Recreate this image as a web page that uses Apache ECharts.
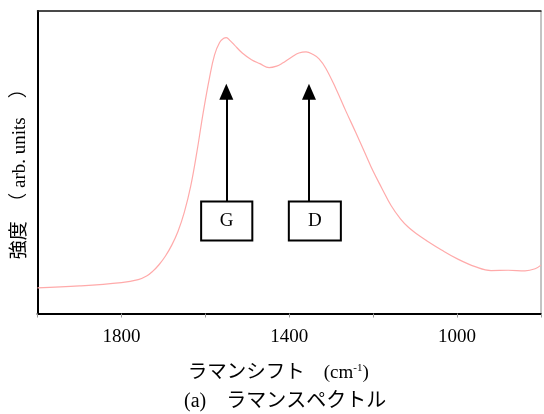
<!DOCTYPE html>
<html><head><meta charset="utf-8">
<script src="https://cdn.jsdelivr.net/npm/echarts@6/dist/echarts.min.js"></script>
<style>html,body{margin:0;padding:0;background:#fff}#c{width:544px;height:414px}</style>
</head><body><div id="c"></div>
<script>
const ramanShift = [2000,1900,1800,1760,1740,1725,1710,1695,1680,1665,1650,1635,1620,1605,1590,1578,1566,1556,1550,1541,1531,1512,1490,1470,1448,1430,1417,1393,1377,1360,1343,1329,1313,1289,1265,1242,1218,1200,1180,1157,1135,1116,1095,1075,1037,997,957,919,878,838,814,800];
const intensity = [8.5,9.1,10.2,11.2,12.4,14.0,16.2,19.0,22.6,27.2,33.5,42.0,53.5,66.5,78.0,85.5,89.6,91.0,91.2,90.2,88.8,86.1,83.9,82.6,81.3,81.8,82.7,84.9,86.1,86.5,85.6,84.2,81.1,74.4,66.9,60.0,52.6,47.0,41.6,35.6,31.3,28.5,26.2,24.3,21.0,17.9,15.5,14.2,14.3,14.1,14.8,16.0];
const xTickLabels = [1800, 1400, 1000];
const peakNames = ['G', 'D'];
const peakShift = [1550, 1353];
const boxLeft = [1610, 1401];
const boxRight = [1488, 1277];
const boxBottom = 24.1;
const boxTop = 37.0;
const arrowTip = 73.3;

const FONT = "'Liberation Serif','Noto Sans CJK JP',serif";
const chart = echarts.init(document.getElementById('c'));
const pts = ramanShift.map((x, i) => [x, intensity[i]]);
chart.setOption({
  animation: false,
  grid: {left: 37.5, right: 1, top: 11, bottom: 100.5, show: true, borderColor: '#888', borderWidth: 1, backgroundColor: 'transparent'},
  xAxis: [{
    type: 'value', min: 800, max: 2000, interval: 200, inverse: true, position: 'bottom',
    axisLine: {show: true, lineStyle: {color: '#000', width: 2}},
    axisTick: {show: true, length: 4, lineStyle: {color: '#999', width: 1}},
    splitLine: {show: false},
    axisLabel: {margin: 14, color: '#000', fontFamily: FONT, fontSize: 19,
      formatter: v => xTickLabels.includes(v) ? String(v) : ''},
    name: '{jp|ラマンシフト}　(cm{sup|-1})', nameLocation: 'middle', nameGap: 49,
    nameTextStyle: {color: '#000', fontFamily: FONT, fontSize: 19, padding: [0, 22, 0, 0],
      rich: {
        jp: {fontSize: 19.5, color: '#000', fontFamily: FONT},
        sup: {fontSize: 11, verticalAlign: 'top', padding: [0, 0, 10, 0], color: '#000', fontFamily: FONT}}}
  }, {
    type: 'value', min: 800, max: 2000, inverse: true, position: 'top',
    axisLine: {show: true, onZero: false, lineStyle: {color: '#222', width: 1.5}},
    axisTick: {show: false}, axisLabel: {show: false}, splitLine: {show: false}
  }],
  yAxis: {
    type: 'value', min: 0, max: 100,
    axisLine: {show: true, lineStyle: {color: '#000', width: 2}},
    axisTick: {show: false}, axisLabel: {show: false}, splitLine: {show: false},
    name: '強度　（ arb. units　）', nameLocation: 'middle', nameGap: 8, nameRotate: 90,
    nameTextStyle: {color: '#000', fontFamily: FONT, fontSize: 19, padding: [0, 14, 0, 0]}
  },
  title: {
    text: '(a)　ラマンスペクトル', left: 179, top: 387,
    textStyle: {color: '#000', fontFamily: FONT, fontSize: 20, fontWeight: 'normal'}
  },
  series: [{
    type: 'line', data: pts, showSymbol: false, smooth: 0.4,
    lineStyle: {color: '#ffaaaa', width: 1.2}, silent: true,
    markArea: {
      silent: true,
      itemStyle: {color: '#fff', borderColor: '#000', borderWidth: 2, opacity: 1},
      label: {show: true, position: 'inside', color: '#000', fontFamily: FONT, fontSize: 19},
      data: peakNames.map((n, i) => [{name: n, coord: [boxLeft[i], boxTop]}, {coord: [boxRight[i], boxBottom]}])
    },
    markLine: {
      silent: true, symbol: ['none', 'triangle'], symbolSize: [14, 16],
      lineStyle: {color: '#000', width: 2, type: 'solid'}, label: {show: false},
      data: peakShift.map(x => [{coord: [x, boxTop]}, {coord: [x, arrowTip]}])
    }
  }]
});
</script></body></html>
